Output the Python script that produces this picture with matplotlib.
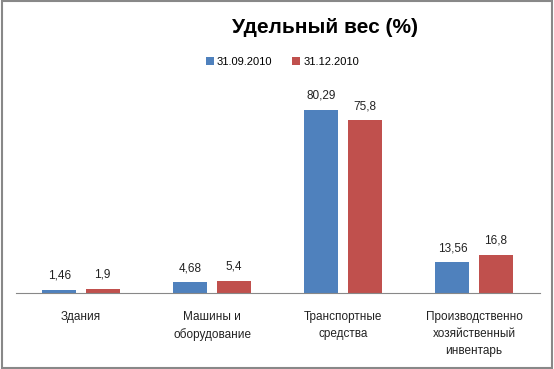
import numpy as np
import matplotlib.pyplot as plt
from matplotlib.patches import Rectangle

categories = ["Здания", "Машины и\nоборудование", "Транспортные\nсредства",
              "Производственно\nхозяйственный\nинвентарь"]
series_names = ["31.09.2010", "31.12.2010"]
val_sep = [1.46, 4.68, 80.29, 13.56]
val_dec = [1.9, 5.4, 75.8, 16.8]
colors = ["#4f81bd", "#c0504d"]

plt.rcParams['font.family'] = ['Liberation Sans', 'DejaVu Sans']

fig = plt.figure(figsize=(5.54, 3.69), dpi=100)
ax = fig.add_axes([0.028, 0.206, 0.946, 0.556])

x = np.arange(len(categories))
w = 0.26
off = 0.165
for vals, name, col, d in [(val_sep, series_names[0], colors[0], -off),
                           (val_dec, series_names[1], colors[1], off)]:
    bars = ax.bar(x + d, vals, width=w, color=col, label=name)
    for b, v in zip(bars, vals):
        ax.text(b.get_x() + b.get_width() / 2, v + 3.5,
                ("%g" % v).replace(".", ","), ha="center", va="bottom",
                fontsize=8.5, color="#222222")

ax.set_xlim(-0.5, 3.5)
ax.set_ylim(0, 90)
ax.set_yticks([])
ax.set_xticks(x)
ax.set_xticklabels(categories, fontsize=8.5, linespacing=1.55, color="#222222")
ax.tick_params(axis="x", length=0, pad=13)
for s in ["top", "right", "left"]:
    ax.spines[s].set_visible(False)
ax.spines["bottom"].set_color("#888888")

fig.text(0.587, 0.925, "Удельный вес (%)", ha="center", va="center",
         fontsize=15, fontweight="bold")
fig.legend(loc="center", bbox_to_anchor=(0.51, 0.832), ncol=2, frameon=False,
           fontsize=8, handlelength=0.7, handleheight=0.7, handletextpad=0.3,
           columnspacing=1.8)

fig.patches.append(Rectangle((0.003, 0.003), 0.994, 0.994, transform=fig.transFigure,
                             fill=False, edgecolor="#888888", linewidth=1.5))

fig.savefig("out.png", dpi=100)
